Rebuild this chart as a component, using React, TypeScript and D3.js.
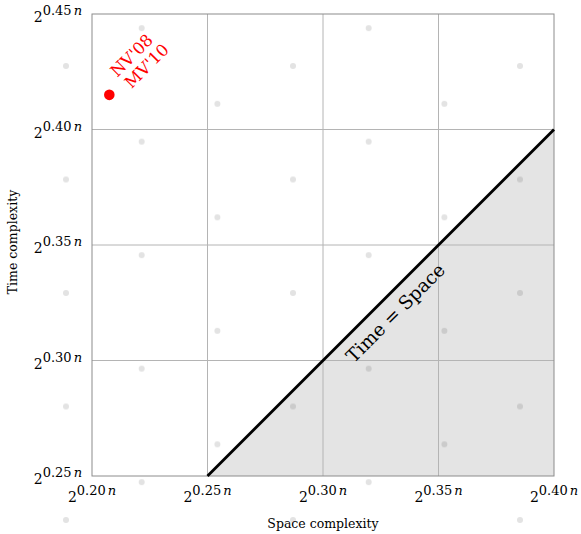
import React from "react";
import * as d3 from "d3";

// axis ticks (exponents of 2^{c n})
const xTicks = [0.2, 0.25, 0.3, 0.35, 0.4];
const yTicks = [0.25, 0.3, 0.35, 0.4, 0.45];

// known results: [space exponent, time exponent]
const pointNames = ["NV'08", "MV'10"];
const pointSpace = [0.2075];
const pointTime = [0.415];

// Time = Space diagonal
const diagFrom = 0.25;
const diagTo = 0.4;

const width = 581;
const height = 534;
const margin = { left: 92, top: 14, right: 27, bottom: 58 };
const font = "'DejaVu Serif', serif";

const App = () => {
  const x = d3
    .scaleLinear()
    .domain([0.2, 0.4])
    .range([margin.left, width - margin.right]);
  const y = d3
    .scaleLinear()
    .domain([0.25, 0.45])
    .range([height - margin.bottom, margin.top]);

  const [x0, x1] = x.range();
  const [y0, y1] = y.range();

  const shade = d3.line()([
    [x(diagFrom), y(diagFrom)],
    [x(diagTo), y(diagTo)],
    [x(diagTo), y(0.25)],
  ]) + "Z";

  // label position on the diagonal
  const lx = x(0.326);
  const ly = y(0.326);

  const px = x(pointSpace[0]);
  const py = y(pointTime[0]);

  const expLabel = (v: number) => d3.format(".2f")(v);

  return (
    <svg width={width} height={height} style={{ position: "absolute", left: 0, top: 0 }}>
      <defs>
        <pattern id="dots" patternUnits="userSpaceOnUse" x={66} y={66} width={227} height={113.5}>
          <circle cx={0} cy={0} r={3} fill="#000" fillOpacity={0.11} />
          <circle cx={75.7} cy={75.7} r={3} fill="#000" fillOpacity={0.11} />
          <circle cx={151.4} cy={37.8} r={3} fill="#000" fillOpacity={0.11} />
          <circle cx={227} cy={0} r={3} fill="#000" fillOpacity={0.11} />
          <circle cx={0} cy={113.5} r={3} fill="#000" fillOpacity={0.11} />
          <circle cx={227} cy={113.5} r={3} fill="#000" fillOpacity={0.11} />
        </pattern>
      </defs>
      <rect width={width} height={height} fill="#fff" />

      <path d={shade} fill="#e4e4e4" />

      {/* grid */}
      {xTicks.slice(1, -1).map((t) => (
        <line key={"gx" + t} x1={x(t)} x2={x(t)} y1={y0} y2={y1} stroke="#b4b4b4" strokeWidth={1} />
      ))}
      {yTicks.slice(1, -1).map((t) => (
        <line key={"gy" + t} x1={x0} x2={x1} y1={y(t)} y2={y(t)} stroke="#b4b4b4" strokeWidth={1} />
      ))}

      {/* frame */}
      <rect x={x0} y={y1} width={x1 - x0} height={y0 - y1} fill="none" stroke="#8c8c8c" strokeWidth={1} />

      {/* diagonal */}
      <line x1={x(diagFrom)} y1={y(diagFrom)} x2={x(diagTo)} y2={y(diagTo)} stroke="#000" strokeWidth={2.8} />
      <text
        transform={`translate(${lx},${ly}) rotate(-45)`}
        dy={24}
        textAnchor="middle"
        fontFamily={font}
        fontSize={18.5}
      >
        Time = Space
      </text>

      {/* tick labels */}
      {xTicks.map((t) => (
        <text key={"xt" + t} x={x(t)} y={y0 + 26} textAnchor="middle" fontFamily={font} fill="#000">
          <tspan fontSize={14}>2</tspan>
          <tspan fontSize={13} dy={-7}>{expLabel(t)}</tspan>
          <tspan fontSize={13} fontStyle="italic" dx={2}>n</tspan>
        </text>
      ))}
      {yTicks.map((t) => (
        <text key={"yt" + t} x={x0 - 10} y={y(t) + 8} textAnchor="end" fontFamily={font} fill="#000">
          <tspan fontSize={14}>2</tspan>
          <tspan fontSize={13} dy={-7}>{expLabel(t)}</tspan>
          <tspan fontSize={13} fontStyle="italic" dx={2}>n</tspan>
        </text>
      ))}

      {/* axis titles */}
      <text x={(x0 + x1) / 2} y={528} textAnchor="middle" fontFamily={font} fontSize={12.5}>
        Space complexity
      </text>
      <text transform={`translate(17,${(y0 + y1) / 2 - 3}) rotate(-90)`} textAnchor="middle" fontFamily={font} fontSize={12.5}>
        Time  complexity
      </text>

      {/* point */}
      <circle cx={px} cy={py} r={5.3} fill="#f00" />
      <text transform={`translate(${px + 8},${py - 17}) rotate(-45)`} fontFamily={font} fontSize={16.5} fill="#f00">
        {pointNames.map((n, i) => (
          <tspan key={n} x={i * 2} dy={i === 0 ? 0 : 18}>{n}</tspan>
        ))}
      </text>

      <rect width={width} height={height} fill="url(#dots)" />
    </svg>
  );
};

export default App;
